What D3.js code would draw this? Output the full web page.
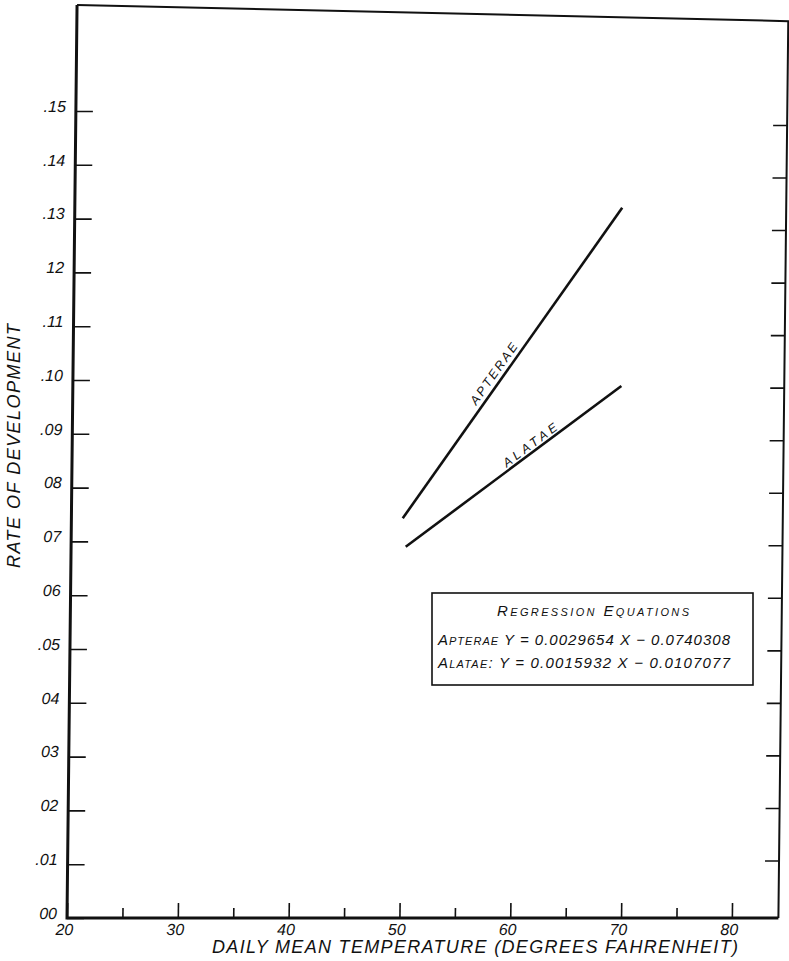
<!DOCTYPE html>
<html>
<head>
<meta charset="utf-8">
<script src="https://cdn.jsdelivr.net/npm/d3@7"></script>
<style>
body { margin: 0; background: #fff; }
text { font-family: "Liberation Sans", Arial, sans-serif; font-style: italic; fill: #111; }
</style>
</head>
<body>
<svg id="chart" width="789" height="961"></svg>
<script>
// axis values
const xTicks = [20, 30, 40, 50, 60, 70, 80];
const xTickLabels = ["20", "30", "40", "50", "60", "70", "80"];
const xMinorTicks = [25, 35, 45, 55, 65, 75];
const yTicks = [0, .01, .02, .03, .04, .05, .06, .07, .08, .09, .10, .11, .12, .13, .14, .15];
const yTickLabels = ["00", ".01", "02", "03", "04", ".05", "06", "07", "08", ".09", ".10", ".11", "12", ".13", ".14", ".15"];
const yRightTicks = [.01, .02, .03, .04, .05, .06, .07, .08, .09, .10, .11, .12, .13, .14, .15];

// regression lines
const apteraeTemp = [49.9, 69.4];
const apteraeRate = [0.0743, 0.1320];
const alataeTemp = [50.2, 69.5];
const alataeRate = [0.0690, 0.0989];

const equations = [
  ["Apterae", " Y = 0.0029654 X − 0.0740308"],
  ["Alatae:", " Y = 0.0015932 X − 0.0107077"]
];

const xMax = 84.2;
const topLeft = 0.1697, topRight = 0.1667; // top edge of the frame is not level
const skew = 0.011; // the whole drawing leans a bit

const svg = d3.select("#chart");

const x = d3.scaleLinear().domain([20, xMax]).range([67, 778.4]);
const y = d3.scaleLinear().domain([0, 0.15]).range([918, 111]);
const yRight = d3.scaleLinear().domain([0, 0.15]).range([913, 125]);

const g = svg.append("g")
  .attr("transform", `matrix(1,0,${-skew},1,${skew * y(0)},0)`);

// frame
g.append("path")
  .attr("fill", "none").attr("stroke", "#111").attr("stroke-width", 3)
  .attr("d", d3.line()([[x(20), y(topLeft)], [x(20), y(0)], [x(xMax), y(0)]]));
g.append("path")
  .attr("fill", "none").attr("stroke", "#111").attr("stroke-width", 2)
  .attr("d", d3.line()([[x(20), y(topLeft)], [x(xMax), y(topRight)], [x(xMax), y(0)]]));

// bottom axis
const xAxis = g.append("g")
  .attr("transform", `translate(0,${y(0)})`)
  .call(d3.axisBottom(x).tickValues(xTicks).tickSize(-15).tickPadding(6)
    .tickFormat((d, i) => xTickLabels[i]));
g.append("g")
  .attr("transform", `translate(0,${y(0)})`)
  .call(d3.axisBottom(x).tickValues(xMinorTicks).tickSize(-10).tickFormat(""));

// left axis
const yAxis = g.append("g")
  .attr("transform", `translate(${x(20)},0)`)
  .call(d3.axisLeft(y).tickValues(yTicks).tickSize(-17).tickPadding(10)
    .tickFormat((d, i) => yTickLabels[i]));

// right axis ticks
g.append("g")
  .attr("transform", `translate(${x(xMax)},0)`)
  .call(d3.axisRight(yRight).tickValues(yRightTicks).tickSize(-14).tickFormat(""));

g.selectAll(".domain").remove();
g.selectAll(".tick line").attr("stroke", "#111").attr("stroke-width", 1.6);
xAxis.selectAll("text").attr("font-size", 16).attr("dx", -3).attr("fill", "#111");
yAxis.selectAll("text").attr("font-size", 16).attr("dy", "0.02em").attr("fill", "#111");

// regression lines
const line = d3.line().x(d => x(d[0])).y(d => y(d[1]));
const series = [
  { name: "APTERAE", temp: apteraeTemp, rate: apteraeRate, at: 58.65, off: -5, len: 72 },
  { name: "ALATAE", temp: alataeTemp, rate: alataeRate, at: 61.7, off: -3, len: 64 }
];

series.forEach(s => {
  g.append("path")
    .attr("fill", "none").attr("stroke", "#111").attr("stroke-width", 2.6)
    .attr("d", line(d3.zip(s.temp, s.rate)));

  const along = d3.scaleLinear().domain(s.temp).range(s.rate);
  const ang = Math.atan2(y(s.rate[1]) - y(s.rate[0]), x(s.temp[1]) - x(s.temp[0])) * 180 / Math.PI;
  g.append("text")
    .attr("transform", `translate(${x(s.at)},${y(along(s.at))}) rotate(${ang})`)
    .attr("dy", s.off)
    .attr("text-anchor", "middle")
    .attr("font-size", 12.5)
    .attr("textLength", s.len)
    .attr("lengthAdjust", "spacing")
    .text(s.name);
});

// axis titles
svg.append("text")
  .attr("x", 475).attr("y", 953)
  .attr("text-anchor", "middle")
  .attr("font-size", 18)
  .attr("textLength", 526).attr("lengthAdjust", "spacing")
  .text("DAILY MEAN TEMPERATURE  (DEGREES FAHRENHEIT)");

svg.append("text")
  .attr("transform", "translate(20,446) rotate(-90)")
  .attr("text-anchor", "middle")
  .attr("font-size", 18)
  .attr("textLength", 244).attr("lengthAdjust", "spacing")
  .text("RATE  OF  DEVELOPMENT");

// regression equation box
const box = svg.append("g").attr("transform", "translate(432,593)");
box.append("rect")
  .attr("width", 321).attr("height", 92)
  .attr("fill", "#fff").attr("stroke", "#111").attr("stroke-width", 1.6);
box.append("text")
  .attr("x", 161).attr("y", 23)
  .attr("text-anchor", "middle")
  .attr("font-size", 15)
  .style("font-variant", "small-caps")
  .attr("textLength", 192).attr("lengthAdjust", "spacing")
  .text("Regression Equations");

equations.forEach((e, i) => {
  const t = box.append("text")
    .attr("x", 6).attr("y", 52 + i * 23)
    .attr("font-size", 15)
    .attr("textLength", 292).attr("lengthAdjust", "spacing");
  t.append("tspan").style("font-variant", "small-caps").text(e[0]);
  t.append("tspan").text(e[1]);
});
</script>
</body>
</html>
